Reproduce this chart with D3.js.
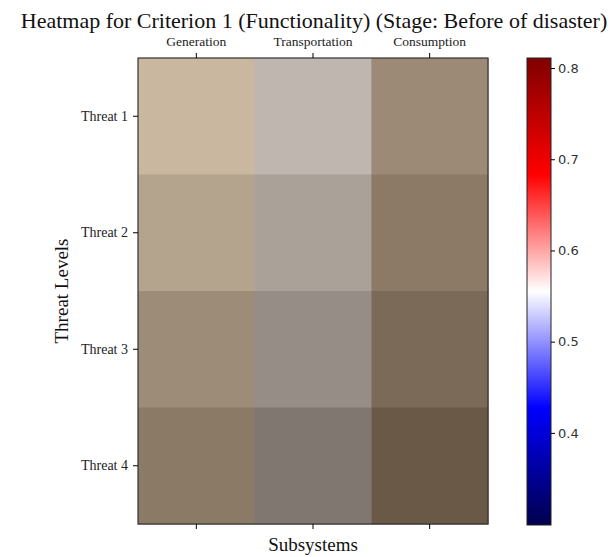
<!DOCTYPE html>
<html>
<head>
<meta charset="utf-8">
<script src="https://cdn.jsdelivr.net/npm/d3@7"></script>
<style>
  body { margin: 0; background: #fff; }
  svg { display: block; }
</style>
</head>
<body>
<svg width="615" height="557"></svg>
<script>
// данные
const subsystems = ["Generation", "Transportation", "Consumption"];
const threats = ["Threat 1", "Threat 2", "Threat 3", "Threat 4"];
// значения ячеек (строки - угрозы, столбцы - подсистемы)
const values = [
    [0.755, 0.750, 0.585],
    [0.680, 0.670, 0.525],
    [0.595, 0.595, 0.460],
    [0.525, 0.510, 0.390]
];
const colorbarDomain = [0.299, 0.811];
const colorbarTicks = [0.4, 0.5, 0.6, 0.7, 0.8];

const svg = d3.select("svg");

const area = { left: 138, right: 488, top: 58, bottom: 524 };
const serif = "'Liberation Serif', 'DejaVu Serif', serif";

// оттенок для каждой подсистемы (a, b в Lab)
const tint = [[4, 14], [1.8, 5.5], [5, 13]];

const scX = d3.scaleBand().domain(subsystems).range([area.left, area.right]);
const scY = d3.scaleBand().domain(threats).range([area.top, area.bottom]);
const scL = d3.scaleLinear().domain([0, 1]).range([0, 100]);

const cells = [];
values.forEach((row, i) => row.forEach((v, j) => cells.push({ t: threats[i], s: subsystems[j], j: j, v: v })));

svg.selectAll("rect.cell")
    .data(cells)
    .enter()
    .append("rect")
    .attr("class", "cell")
    .attr("x", d => scX(d.s))
    .attr("y", d => scY(d.t))
    .attr("width", scX.bandwidth() + 0.5)
    .attr("height", scY.bandwidth() + 0.5)
    .style("fill", d => d3.lab(scL(d.v), tint[d.j][0], tint[d.j][1]).formatHex());

svg.append("rect")
    .attr("x", area.left).attr("y", area.top)
    .attr("width", area.right - area.left).attr("height", area.bottom - area.top)
    .style("fill", "none").style("stroke", "#333").style("stroke-width", 1.2);

// оси
const gTop = svg.append("g")
    .attr("transform", `translate(0, ${area.top})`)
    .call(d3.axisTop(scX).tickSize(5).tickPadding(7));
gTop.select(".domain").remove();
gTop.selectAll("text").style("font-family", serif).style("font-size", "13.5px").attr("fill", "#222");

const gBottom = svg.append("g")
    .attr("transform", `translate(0, ${area.bottom})`)
    .call(d3.axisBottom(scX).tickSize(5).tickFormat(""));
gBottom.select(".domain").remove();

const gLeft = svg.append("g")
    .attr("transform", `translate(${area.left}, 0)`)
    .call(d3.axisLeft(scY).tickSize(5).tickPadding(5));
gLeft.select(".domain").remove();
gLeft.selectAll("text").style("font-family", serif).style("font-size", "14px").attr("fill", "#222");

// подписи
svg.append("text")
    .attr("x", 314).attr("y", 28)
    .attr("text-anchor", "middle")
    .style("font-family", serif).style("font-size", "22px").attr("fill", "#111")
    .text("Heatmap for Criterion 1 (Functionality) (Stage: Before of disaster)");

svg.append("text")
    .attr("x", (area.left + area.right) / 2).attr("y", 551)
    .attr("text-anchor", "middle")
    .style("font-family", serif).style("font-size", "19px").attr("fill", "#111")
    .text("Subsystems");

svg.append("text")
    .attr("transform", `translate(68, ${(area.top + area.bottom) / 2}) rotate(-90)`)
    .attr("text-anchor", "middle")
    .style("font-family", serif).style("font-size", "19px").attr("fill", "#111")
    .text("Threat Levels");

// цветовая шкала (seismic)
const cb = { x: 527, w: 24, top: 58, bottom: 525 };
const seismic = d3.scaleLinear()
    .domain([0, 0.25, 0.5, 0.75, 1])
    .range(["#00004c", "#0000ff", "#ffffff", "#ff0000", "#800000"]);

const defs = svg.append("defs");
const grad = defs.append("linearGradient")
    .attr("id", "cbGrad")
    .attr("x1", 0).attr("y1", 1).attr("x2", 0).attr("y2", 0);
d3.range(0, 1.0001, 0.05).forEach(t => {
    grad.append("stop").attr("offset", t).attr("stop-color", seismic(t));
});

svg.append("rect")
    .attr("x", cb.x).attr("y", cb.top)
    .attr("width", cb.w).attr("height", cb.bottom - cb.top)
    .style("fill", "url(#cbGrad)")
    .style("stroke", "#222").style("stroke-width", 1);

const scCb = d3.scaleLinear().domain(colorbarDomain).range([cb.bottom, cb.top]);
const gCb = svg.append("g")
    .attr("transform", `translate(${cb.x + cb.w}, 0)`)
    .call(d3.axisRight(scCb).tickValues(colorbarTicks).tickFormat(d3.format(".1f")).tickSize(4).tickPadding(3));
gCb.select(".domain").remove();
gCb.selectAll("text").style("font-family", "'DejaVu Sans', sans-serif").style("font-size", "13px").attr("fill", "#333");
</script>
</body>
</html>
